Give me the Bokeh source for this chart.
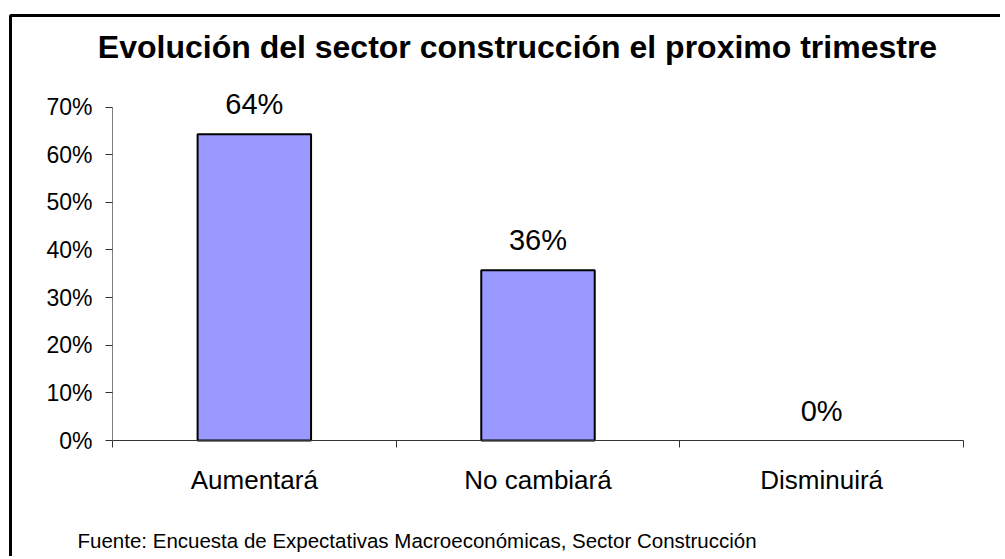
from bokeh.plotting import figure
from bokeh.models import (Range1d, FixedTicker, NumeralTickFormatter, Label, LabelSet,
                          ColumnDataSource, LinearAxis, BoxAnnotation)
from bokeh.core.properties import value
from bokeh.embed import file_html
from bokeh.resources import INLINE

categories = ["Aumentará", "No cambiará", "Disminuirá"]
shares = [0.6429, 0.3571, 0.0]
share_labels = ["64%", "36%", "0%"]
y_ticks = [0.0, 0.1, 0.2, 0.3, 0.4, 0.5, 0.6, 0.7]
title_text = "Evolución del sector construcción el proximo trimestre"
source_text = "Fuente: Encuesta de Expectativas Macroeconómicas, Sector Construcción"

FONT = "Liberation Sans"
W, H = 1000, 556

# layout: where the axes sit on the canvas (pixels)
AX_LEFT, AX_RIGHT = 112, 963     # x = 0 and x = n categories
AX_BOTTOM, AX_TOP = 440, 106.5   # y = 0 and y = 0.7
n = len(categories)
ppx = (AX_RIGHT - AX_LEFT) / n
ppy = (AX_BOTTOM - AX_TOP) / 0.7
x_range = Range1d(-AX_LEFT / ppx, (W - AX_LEFT) / ppx)
y_range = Range1d(-(H - AX_BOTTOM) / ppy, AX_BOTTOM / ppy)

x_pos = [i + 0.5 for i in range(n)]
outline_alpha = [1.0 if v > 0 else 0.0 for v in shares]
src = ColumnDataSource(dict(x=x_pos, top=shares, lab=share_labels, la=outline_alpha))

p = figure(width=W, height=H, x_range=x_range, y_range=y_range,
           output_backend="svg", toolbar_location=None,
           x_axis_location=None, y_axis_location=None,
           min_border=0, min_border_left=0, min_border_right=0,
           min_border_top=0, min_border_bottom=0)
p.title.visible = False
p.outline_line_color = None
p.xgrid.visible = False
p.ygrid.visible = False
p.background_fill_color = "white"
p.border_fill_color = "white"

# outer chart border (only top/left edges fall inside the picture)
p.add_layout(BoxAnnotation(left=10, right=5000, top=H - 15, bottom=-5000,
                           left_units="screen", right_units="screen",
                           top_units="screen", bottom_units="screen",
                           fill_color=None, fill_alpha=0,
                           line_color="black", line_alpha=1.0, line_width=3))

p.vbar(x="x", top="top", width=0.40, bottom=0, source=src,
       fill_color="#9999FF", line_color="black", line_alpha="la", line_width=2)

labels = LabelSet(x="x", y="top", text="lab", source=src, text_align="center",
                  text_baseline="alphabetic", y_offset=20, text_font=value(FONT),
                  text_font_size="29px", text_color="black")
p.add_layout(labels)

# x axis
xa = LinearAxis(fixed_location=0, bounds=(0, n))
xa.ticker = FixedTicker(ticks=x_pos, minor_ticks=list(range(n + 1)))
xa.major_label_overrides = {x: c for x, c in zip(x_pos, categories)}
xa.major_tick_out = 0
xa.major_tick_in = 0
xa.minor_tick_out = 7
xa.minor_tick_in = 0
xa.minor_tick_line_color = "#333333"
xa.axis_line_color = "#333333"
xa.major_label_text_font = FONT
xa.major_label_text_font_size = "26px"
xa.major_label_text_color = "black"
xa.major_label_standoff = 17
p.add_layout(xa, "below")

# y axis
ya = LinearAxis(fixed_location=0, bounds=(0, 0.7))
ya.ticker = FixedTicker(ticks=y_ticks)
ya.formatter = NumeralTickFormatter(format="0%")
ya.major_tick_out = 7
ya.major_tick_in = 0
ya.minor_tick_out = 0
ya.minor_tick_in = 0
ya.major_tick_line_color = "#333333"
ya.axis_line_color = "#808080"
ya.major_label_text_font = FONT
ya.major_label_text_font_size = "23px"
ya.major_label_text_color = "black"
ya.major_label_standoff = 13
p.add_layout(ya, "left")

p.add_layout(Label(x=517, y=H - 46, x_units="screen", y_units="screen", text=title_text,
                   text_align="center", text_baseline="alphabetic", text_font=FONT,
                   text_font_size="32px", text_font_style="bold", text_color="black"))
p.add_layout(Label(x=77, y=H - 540, x_units="screen", y_units="screen", text=source_text,
                   text_align="left", text_baseline="alphabetic", text_font=FONT,
                   text_font_size="20.5px", text_color="black"))

open("out.html", "w").write(file_html(p, INLINE))
